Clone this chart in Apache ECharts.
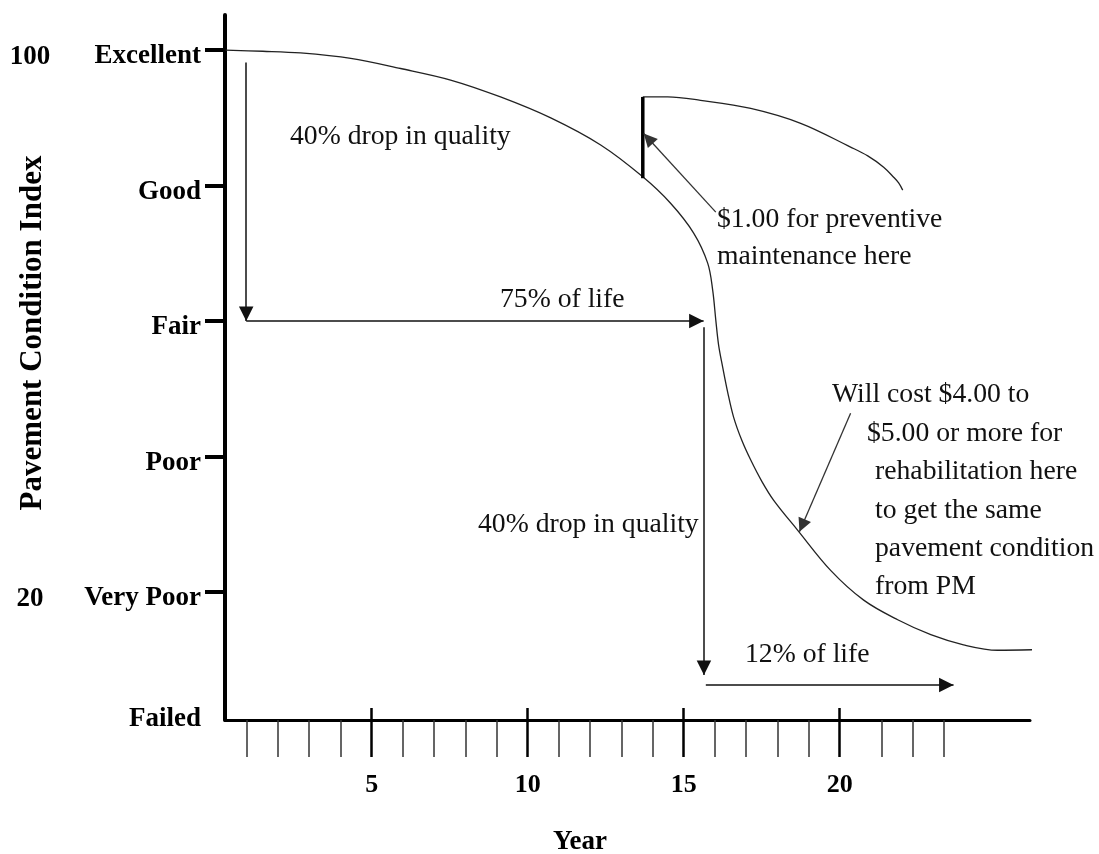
<!DOCTYPE html>
<html>
<head>
<meta charset="utf-8">
<script src="https://cdn.jsdelivr.net/npm/echarts@6/dist/echarts.min.js"></script>
<style>html,body{margin:0;padding:0;background:#fff;}#c{width:1099px;height:854px;}</style>
</head>
<body>
<div id="c"></div>
<script>
// ---- data ----
const yearMin = 0.3, yearMax = 26.1;
const pciMin = 1.1, pciMax = 105.2;
const majorYears = [5, 10, 15, 20];
const minorTickYears = [1, 2, 3, 4, 6, 7, 8, 9, 11, 12, 13, 14, 16, 17, 18, 19, 21.35, 22.35, 23.35];
const conditionValues = [pciMin, 20, 40, 60, 80, 100];
const conditionNames = ['Failed', 'Very Poor', 'Poor', 'Fair', 'Good', 'Excellent'];
const conditionTicks = [20, 40, 60, 80, 100];
const pciNumberLabels = [20, 100];

const curveYears = [0.32, 1.51, 2.72, 4.33, 5.93, 7.53, 9.13, 10.74, 12.34, 13.69, 14.58, 15.32, 15.77, 15.93, 16.03, 16.12, 16.25, 16.41, 16.60, 16.86, 17.15, 17.50, 17.88, 18.65, 19.71, 20.77, 21.86, 22.92, 23.97, 25.06, 26.44];
const curvePci   = [100, 99.85, 99.6, 98.8, 97.3, 95.6, 93.1, 90.0, 86.0, 81.3, 77.4, 73.0, 68.56, 64.58, 60.15, 56.46, 53.21, 49.52, 45.83, 42.44, 39.48, 36.38, 33.58, 29.15, 23.2, 18.8, 15.9, 13.7, 12.2, 11.4, 11.5];

const pmJumpYears = [13.69, 13.69];
const pmJumpPci   = [81.1, 93.1];
const pmCurveYears = [13.69, 14.49, 15.54, 17.15, 18.75, 20.35, 20.90, 21.41, 21.73, 21.89, 22.02];
const pmCurvePci   = [93.1, 93.1, 92.6, 91.4, 89.2, 85.7, 84.4, 82.73, 81.25, 80.4, 79.34];

const arrowDrop1  = [[0.98, 98.2], [0.98, 60.0]];
const arrowLife1  = [[0.98, 60.0], [15.64, 60.0]];
const arrowDrop2  = [[15.65, 59.1], [15.65, 7.75]];
const arrowLife2  = [[15.71, 6.27], [23.65, 6.27]];
const arrowPM     = [[16.03, 76.1], [13.72, 87.7]];
const arrowRehab  = [[20.35, 46.4], [18.71, 28.9]];

// ---- chart ----
const FF = '"Liberation Serif", "Times New Roman", serif';
const zip = (xs, ys) => xs.map((x, i) => [x, ys[i]]);
// arrowhead whose tip sits at the line end: triangle in the lower half of a square box
const HEAD = 'path://M0,0 M28,28 M14,14 L21,28 L7,28 Z';
const chart = echarts.init(document.getElementById('c'), null, {renderer: 'canvas'});

const xBase = {type: 'value', min: yearMin, max: yearMax, position: 'bottom', splitLine: {show: false}};
const yBase = {type: 'value', min: pciMin, max: pciMax, position: 'left', splitLine: {show: false}};
const txt = (s, x, y) => ({type: 'text', x: x, y: y,
  style: {text: s, font: '27.7px ' + FF, fill: '#111', textVerticalAlign: 'middle'}});

chart.setOption({
  animation: false,
  backgroundColor: '#fff',
  grid: {left: 225, right: 69, top: 15, bottom: 134, containLabel: false},
  xAxis: [
    Object.assign({}, xBase, {
      axisLine: {show: true, lineStyle: {color: '#000', width: 3}},
      axisTick: {show: true, customValues: minorTickYears, length: 37, lineStyle: {color: '#333', width: 1.5}},
      axisLabel: {show: true, customValues: majorYears, margin: 52, color: '#000',
        fontFamily: FF, fontWeight: 'bold', fontSize: 26}
    }),
    Object.assign({}, xBase, {
      axisLine: {show: false}, axisLabel: {show: false},
      axisTick: {show: true, customValues: majorYears, length: 37, lineStyle: {color: '#000', width: 2.5}}
    }),
    Object.assign({}, xBase, {
      axisLine: {show: false}, axisLabel: {show: false},
      axisTick: {show: true, inside: true, customValues: majorYears, length: 12, lineStyle: {color: '#000', width: 2.5}}
    })
  ],
  yAxis: [
    Object.assign({}, yBase, {
      axisLine: {show: true, lineStyle: {color: '#000', width: 4}},
      axisTick: {show: true, customValues: conditionTicks, length: 20, lineStyle: {color: '#000', width: 4}},
      axisLabel: {
        show: true, customValues: conditionValues, margin: 24, color: '#000',
        fontFamily: FF, fontWeight: 'bold', fontSize: 27, padding: [12, 0, 0, 0],
        formatter: v => {
          const i = conditionValues.indexOf(v);
          const n = i >= 0 ? conditionNames[i] : '';
          return n === 'Failed' ? '{f|' + n + '}' : n;
        },
        rich: {f: {fontFamily: FF, fontWeight: 'bold', fontSize: 27, color: '#000', padding: [0, 0, 14, 0]}}
      }
    }),
    Object.assign({}, yBase, {
      axisLine: {show: false}, axisTick: {show: false},
      axisLabel: {show: true, customValues: pciNumberLabels, margin: 195, align: 'center', color: '#000',
        formatter: v => '{n|' + v + '}',
        rich: {n: {fontFamily: FF, fontWeight: 'bold', fontSize: 27, color: '#000', padding: [14, 0, 0, 0]}}}
    })
  ],
  series: [
    {type: 'line', name: 'Without PM', data: zip(curveYears, curvePci), smooth: 0.35, showSymbol: false, clip: false,
      lineStyle: {color: '#222', width: 1.3}, z: 3},
    {type: 'line', name: 'PM jump', data: zip(pmJumpYears, pmJumpPci), showSymbol: false, clip: false,
      lineStyle: {color: '#000', width: 3.5}, z: 4},
    {type: 'line', name: 'With PM', data: zip(pmCurveYears, pmCurvePci), smooth: 0.35, showSymbol: false, clip: false,
      lineStyle: {color: '#222', width: 1.3}, z: 3},
    {type: 'lines', coordinateSystem: 'cartesian2d', xAxisIndex: 0, yAxisIndex: 0, z: 5,
      symbol: ['none', HEAD], symbolSize: 29,
      lineStyle: {color: '#111', width: 1.5, opacity: 1, curveness: 0},
      itemStyle: {color: '#000'},
      data: [arrowDrop1, arrowLife1, arrowDrop2, arrowLife2].map(c => ({coords: c}))},
    {type: 'lines', coordinateSystem: 'cartesian2d', xAxisIndex: 0, yAxisIndex: 0, z: 5,
      symbol: ['none', HEAD], symbolSize: 27,
      lineStyle: {color: '#333', width: 1.3, opacity: 1, curveness: 0},
      itemStyle: {color: '#000'},
      data: [arrowPM, arrowRehab].map(c => ({coords: c}))}
  ],
  graphic: [
    {type: 'text', x: 33, y: 333, rotation: Math.PI / 2,
      style: {text: 'Pavement Condition Index', font: 'bold 31px ' + FF, fill: '#000', textAlign: 'center', textVerticalAlign: 'middle'}},
    {type: 'text', x: 580, y: 842,
      style: {text: 'Year', font: 'bold 27px ' + FF, fill: '#000', textAlign: 'center', textVerticalAlign: 'middle'}},
    txt('40% drop in quality', 290, 137),
    txt('75% of life', 500, 300),
    txt('$1.00 for preventive', 717, 220),
    txt('maintenance here', 717, 257),
    txt('Will cost $4.00 to', 832, 395),
    txt('$5.00 or more for', 867, 434),
    txt('rehabilitation here', 875, 472),
    txt('to get the same', 875, 511),
    txt('pavement condition', 875, 549),
    txt('from PM', 875, 587),
    txt('40% drop in quality', 478, 525),
    txt('12% of life', 745, 655)
  ]
});
</script>
</body>
</html>
